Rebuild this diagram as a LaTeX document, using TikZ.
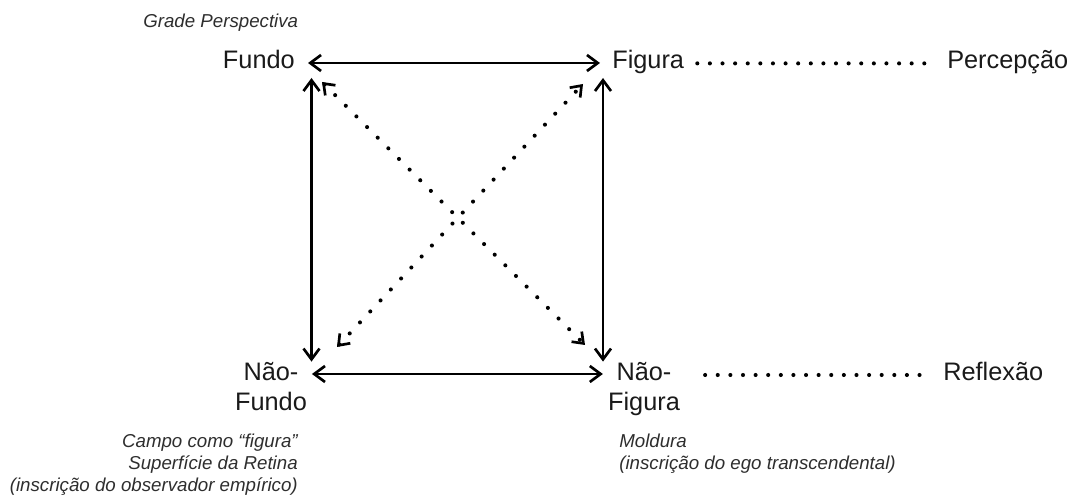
\documentclass[tikz,border=0pt]{standalone}
\usepackage{fontspec}
\setmainfont{Liberation Sans}
\usetikzlibrary{arrows.meta,calc,positioning}
\definecolor{InkDark}{HTML}{1A1A1A}
\definecolor{InkSoft}{HTML}{2E2E2E}
\tikzset{
  term/.style={font=\fontsize{18}{21.3}\selectfont, text=InkDark, inner sep=0pt, align=center},
  note/.style={font=\fontsize{13.3}{15.6}\selectfont\itshape, text=InkSoft, inner sep=0pt},
  link/.style={line width=1.9pt, draw=black,
               {Straight Barb[length=2.7mm,width=4mm]}-{Straight Barb[length=2.7mm,width=4mm]}},
  cross/.style={line width=2.9pt, draw=black, line cap=round, dash pattern=on 0pt off 10.7pt,
               {Straight Barb[length=2.4mm,width=3.6mm,line width=1.9pt]}-{Straight Barb[length=2.4mm,width=3.6mm,line width=1.9pt]}},
  leader/.style={line width=2.9pt, draw=black, line cap=round, dash pattern=on 0pt off 8.97pt},
}

\begin{document}
\begin{tikzpicture}
\useasboundingbox (0,0) rectangle (26.875,12.475);
% ---------------------------------------------------------------- terms
\node[note, anchor=base west] (grade) at (3.575,11.775) {Grade Perspectiva};
\node[term, anchor=base east] (fundo) at (7.375,10.75) {Fundo};
\node[term, anchor=base west] (figura) at (15.3,10.75) {Figura};
\node[term, anchor=base west] (percepcao) at (23.675,10.75) {Percepção};
\node[term, anchor=north] (naofundo) at (6.775,3.425) {Não-\\Fundo};
\node[term, anchor=north] (naofigura) at (16.1,3.425) {Não-\\Figura};
\node[term, anchor=base west] (reflexao) at (23.575,2.95) {Reflexão};
% ---------------------------------------------------------------- notes
\node[note, anchor=north east, align=right] (campo) at (7.45,1.625)
  {Campo como “figura”\\Superfície da Retina\\(inscrição do observador empírico)};
\node[note, anchor=north west, align=left] (moldura) at (15.475,1.625)
  {Moldura\\(inscrição do ego transcendental)};
% ---------------------------------------------------------------- square
\coordinate (tl) at (7.7875,10.9);
\coordinate (tr) at (15.075,10.9);
\coordinate (bl) at (7.7875,3.125);
\coordinate (br) at (15.075,3.125);
\draw[link, shorten <=0.325cm, shorten >=0.3cm] (fundo.east |- tl) -- (figura.west |- tl);
\draw[link, shorten <=0.12cm, shorten >=0.125cm] (naofundo.east |- bl) -- (naofigura.west |- br);
\draw[link, shorten <=0.375cm, shorten >=0.31cm] (tl) -- (bl);
\draw[link, shorten <=0.375cm, shorten >=0.31cm] (tr) -- (br);
% diagonals
\coordinate (da) at (8.05,10.425);
\coordinate (db) at (14.625,3.85);
\coordinate (dc) at (8.425,3.8);
\coordinate (dd) at (14.575,10.375);
\draw[cross] (da) -- (db);
\draw[cross] (dc) -- (dd);
% ---------------------------------------------------------------- leaders
\draw[leader] ([shift={(0.325,0.14)}]figura.base east) -- ([shift={(-0.375,0.14)}]percepcao.base west);
\draw[leader] ($(naofigura.east |- reflexao.base)+(0.625,0.15)$) -- ([shift={(-0.325,0.15)}]reflexao.base west);
\end{tikzpicture}
\end{document}
